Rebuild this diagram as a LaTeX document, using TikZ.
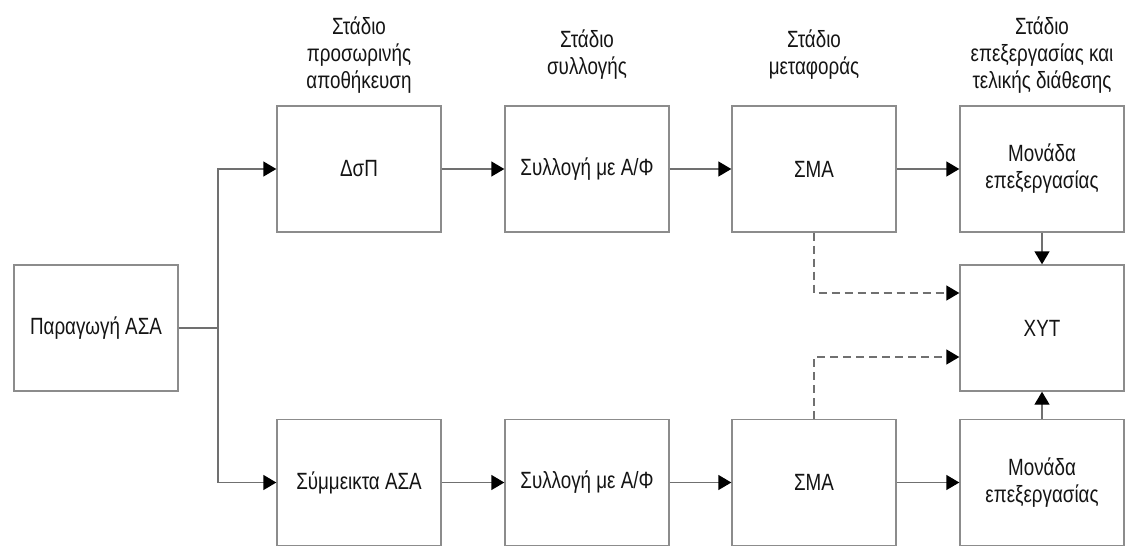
\documentclass[tikz,border=0pt]{standalone}
\usepackage{fontspec}
\setmainfont[FakeStretch=0.8]{Liberation Sans}
\usetikzlibrary{arrows.meta}
\definecolor{boxgray}{HTML}{8C8C8C}
\definecolor{linegray}{HTML}{707070}
\definecolor{textcol}{HTML}{141414}
\begin{document}
\begin{tikzpicture}[x=1pt,y=-1pt,
  box/.style={draw=boxgray, line width=1.4pt, fill=white,
    minimum width=164pt, minimum height=126pt, inner sep=0pt,
    align=center, text=textcol, font=\fontsize{23.5}{27}\selectfont},
  hdr/.style={align=center, text=textcol, inner sep=0pt,
    font=\fontsize{23.5}{27}\selectfont},
  link/.style={draw=linegray, line width=1.4pt},
  flow/.style={link, -{Triangle[length=13pt,width=15pt,color=black]}},
  dflow/.style={flow, dash pattern=on 8pt off 5pt}]
\useasboundingbox (0,0) rectangle (1131,552);

% stage headings
\node[hdr] (h1) at (359,55) {Στάδιο\\προσωρινής\\αποθήκευση};
\node[hdr] (h2) at (587,55) {Στάδιο\\συλλογής};
\node[hdr] (h3) at (814,55) {Στάδιο\\μεταφοράς};
\node[hdr] (h4) at (1042,55) {Στάδιο\\επεξεργασίας και\\τελικής διάθεσης};

% source
\node[box] (P) at (96,328) {Παραγωγή ΑΣΑ};

% upper chain
\node[box] (D)  at (359,169) {ΔσΠ};
\node[box] (S1) at (587,169) {Συλλογή με Α/Φ};
\node[box] (M1) at (814,169) {ΣΜΑ};
\node[box] (U1) at (1042,169) {Μονάδα\\επεξεργασίας};

% landfill
\node[box] (X) at (1042,328) {ΧΥΤ};

% lower chain
\node[box] (B)  at (359,482.5) {Σύμμεικτα ΑΣΑ};
\node[box] (S2) at (587,482.5) {Συλλογή με Α/Φ};
\node[box] (M2) at (814,482.5) {ΣΜΑ};
\node[box] (U2) at (1042,482.5) {Μονάδα\\επεξεργασίας};

% branching from the source
\coordinate (br) at (218,328);
\draw[link] (P.east) -- (br);
\draw[flow] (br) |- (D.west);
\draw[flow] (br) |- (B.west);

% main flows
\draw[flow] (D) -- (S1);
\draw[flow] (S1) -- (M1);
\draw[flow] (M1) -- (U1);
\draw[flow] (B) -- (S2);
\draw[flow] (S2) -- (M2);
\draw[flow] (M2) -- (U2);
\draw[flow] (U1) -- (X);
\draw[flow] (U2) -- (X);

% direct disposal from transfer stations
\draw[dflow] (M1.south) |- ([yshift=35pt]X.west);
\draw[dflow] (M2.north) |- ([yshift=-29pt]X.west);
\end{tikzpicture}
\end{document}
